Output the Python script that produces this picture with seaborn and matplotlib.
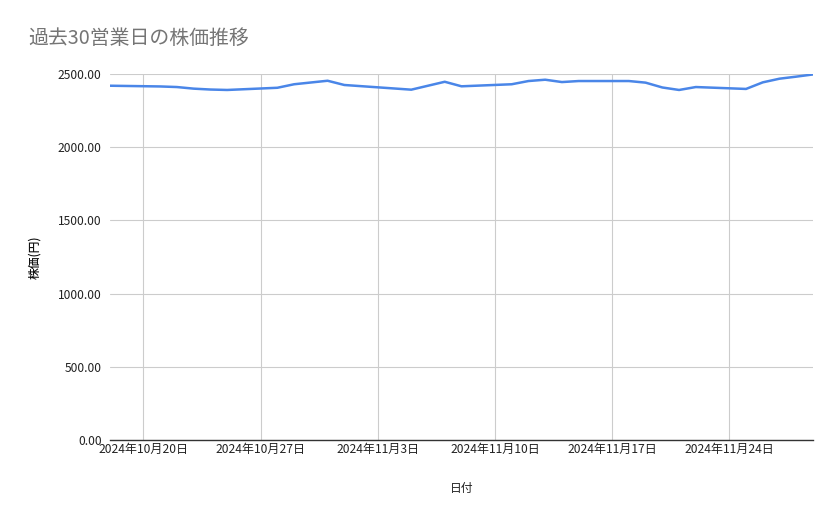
import pandas as pd
import seaborn as sns
import matplotlib
import matplotlib.pyplot as plt
import matplotlib.dates as mdates
from matplotlib.ticker import FuncFormatter

# data (30 trading days)
dates = ['2024-10-18', '2024-10-21', '2024-10-22', '2024-10-23', '2024-10-24', '2024-10-25',
         '2024-10-28', '2024-10-29', '2024-10-30', '2024-10-31', '2024-11-01',
         '2024-11-05', '2024-11-06', '2024-11-07', '2024-11-08',
         '2024-11-11', '2024-11-12', '2024-11-13', '2024-11-14', '2024-11-15',
         '2024-11-18', '2024-11-19', '2024-11-20', '2024-11-21', '2024-11-22',
         '2024-11-25', '2024-11-26', '2024-11-27', '2024-11-28', '2024-11-29']
prices = [2420, 2415, 2411, 2400, 2394, 2391,
          2406, 2430, 2442, 2454, 2425,
          2393, 2420, 2447, 2416,
          2430, 2452, 2461, 2445, 2452,
          2452, 2441, 2408, 2391, 2411,
          2398, 2443, 2468, 2482, 2497]
tick_dates = ['2024-10-20', '2024-10-27', '2024-11-03', '2024-11-10', '2024-11-17', '2024-11-24']
y_ticks = [0, 500, 1000, 1500, 2000, 2500]

df = pd.DataFrame({'date': pd.to_datetime(dates), 'price': prices})

sns.set_style('white')
plt.rcParams['font.family'] = ['Noto Sans CJK JP', 'DejaVu Sans']

fig = plt.figure(figsize=(8.39, 5.19), dpi=100)
ax = fig.add_axes([0.1311, 0.1522, 0.8379, 0.7052])

sns.lineplot(data=df, x='date', y='price', ax=ax, color='#4a86e8', linewidth=1.8)

ax.set_xlim(pd.Timestamp('2024-10-18'), pd.Timestamp('2024-11-29'))
ax.set_ylim(0, 2500)
ax.set_xticks(pd.to_datetime(tick_dates))
ax.xaxis.set_major_formatter(FuncFormatter(
    lambda v, p: (lambda d: f'{d.year}年{d.month}月{d.day}日')(mdates.num2date(v))))
ax.set_yticks(y_ticks)
ax.yaxis.set_major_formatter(FuncFormatter(lambda v, p: f'{v:.2f}'))

ax.grid(True, color='#cccccc', linewidth=0.8)
ax.set_axisbelow(True)
for s in ['top', 'right', 'left']:
    ax.spines[s].set_visible(False)
ax.spines['bottom'].set_color('#333333')
ax.spines['bottom'].set_linewidth(1.0)
ax.tick_params(axis='both', length=0, labelsize=8.7, labelcolor='#222222')
ax.tick_params(axis='x', pad=2)
ax.tick_params(axis='y', pad=6)

ax.set_xlabel('日付', fontsize=8.5, color='#222222', labelpad=19)
ax.set_ylabel('株価(円)', fontsize=8.5, color='#111111', labelpad=12,
              fontweight='medium')

fig.text(28 / 839, 1 - 38 / 519, '過去30営業日の株価推移', fontsize=14.3,
         color='#757575', va='center', ha='left')

plt.savefig('out.png', dpi=100)
